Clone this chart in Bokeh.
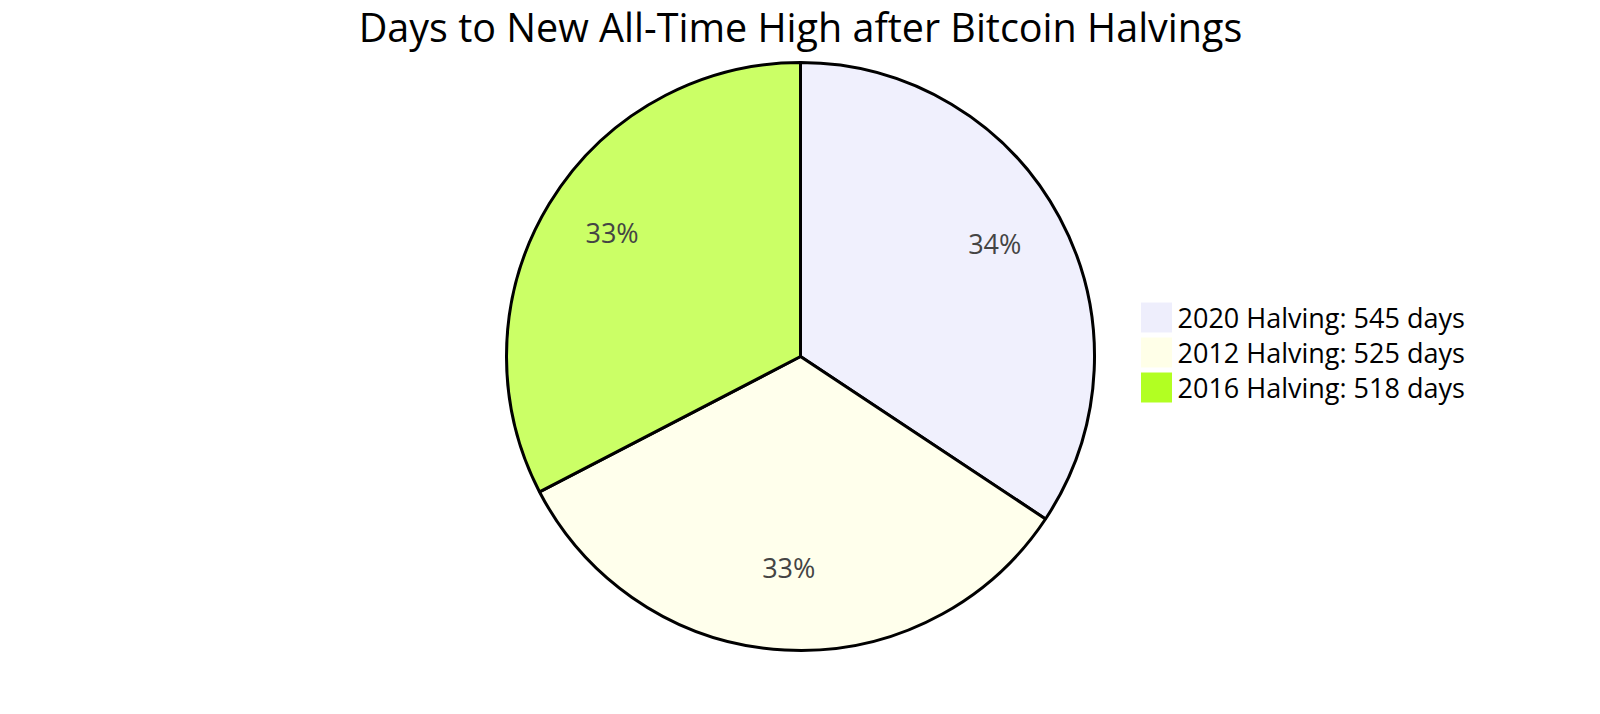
import math
from bokeh.plotting import figure
from bokeh.models import ColumnDataSource, Range1d
from bokeh.core.properties import value
from bokeh.embed import file_html
from bokeh.resources import INLINE

# ---- data ----
labels = ["2020 Halving: 545 days", "2012 Halving: 525 days", "2016 Halving: 518 days"]
days = [545, 525, 518]
slice_colors = ["#F0F0FD", "#FFFFEC", "#CBFF66"]
legend_colors = ["#EEEEFC", "#FFFFE8", "#B2FF22"]
title_text = "Days to New All-Time High after Bitcoin Halvings"

# ---- layout ----
W, H = 1584, 698
cx, cy = 800, 342
R = 294
FONT = "Open Sans"

total = sum(days)
fracs = [d / total for d in days]
starts, ends, mids = [], [], []
acc = 0.0
for f in fracs:
    a0 = math.pi / 2 - acc * 2 * math.pi
    a1 = math.pi / 2 - (acc + f) * 2 * math.pi
    starts.append(a0)
    ends.append(a1)
    mids.append((a0 + a1) / 2)
    acc += f
pct_text = [f"{round(f * 100)}%" for f in fracs]
lx = [cx + 0.75 * R * math.cos(m) for m in mids]
ly = [cy + 0.75 * R * math.sin(m) + 9 for m in mids]

src = ColumnDataSource(dict(start=starts, end=ends, color=slice_colors,
                            lx=lx, ly=ly, pct=pct_text))

p = figure(width=W, height=H, output_backend="svg", toolbar_location=None,
           x_range=Range1d(0, W), y_range=Range1d(0, H),
           x_axis_location=None, y_axis_location=None,
           min_border=0, min_border_left=0, min_border_right=0,
           min_border_top=0, min_border_bottom=0)
p.grid.visible = False
p.outline_line_color = None
p.background_fill_color = "white"
p.border_fill_color = "white"

p.wedge(x=cx, y=cy, radius=R, start_angle="start", end_angle="end",
        direction="clock", fill_color="color", line_color="black",
        line_width=3, source=src)

p.text(x="lx", y="ly", text="pct", source=src, text_align="center",
       text_baseline="middle", text_font=value(FONT), text_font_size="27px",
       text_color="#444444")

# title
p.text(x=[cx], y=[H - 26], text=[title_text], text_align="center",
       text_baseline="alphabetic", text_font=value(FONT),
       text_font_size="39.5px", text_color="black")

# legend
n = len(labels)
leg_x = [1156] * n
leg_y = [381 - 35 * i for i in range(n)]
p.rect(x=leg_x, y=leg_y, width=31, height=30, width_units="screen",
       height_units="screen", fill_color=legend_colors, line_color=None)
p.text(x=[1177] * n, y=leg_y, text=labels, text_align="left",
       text_baseline="middle", text_font=value(FONT), text_font_size="27px",
       text_color="black")

open("out.html", "w").write(file_html(p, INLINE))
